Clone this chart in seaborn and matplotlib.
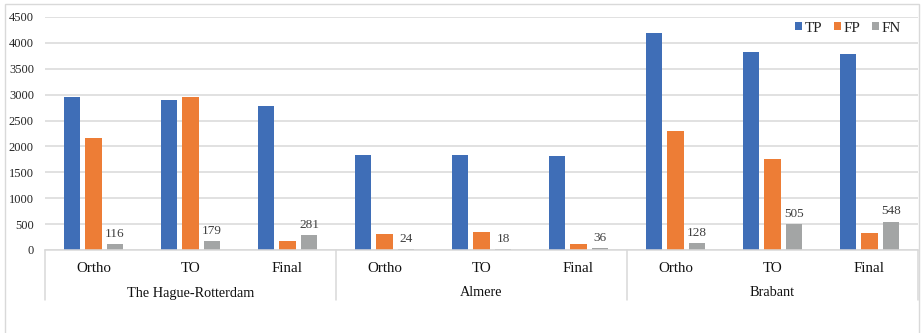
import matplotlib
matplotlib.use("Agg")
import matplotlib.pyplot as plt
import matplotlib.transforms as mtransforms
from matplotlib.patches import Rectangle, Patch
from matplotlib.lines import Line2D
import seaborn as sns
import pandas as pd

# Study areas and evaluation stages
regions = ["The Hague-Rotterdam", "Almere", "Brabant"]
stages = ["Ortho", "TO", "Final"]
metrics = ["TP", "FP", "FN"]

# Counts per region, in stage order (Ortho, TO, Final)
tp = [2950, 2890, 2790, 1830, 1830, 1825, 4200, 3820, 3780]
fp = [2170, 2960, 170, 310, 355, 110, 2290, 1750, 330]
fn = [116, 179, 281, 24, 18, 36, 128, 505, 548]

colors = ["#3F6EB7", "#ED7D36", "#A3A5A5"]
grid_color = "#D9D9D9"

keys = [f"{r}|{s}" for r in regions for s in stages]
rows = []
for m, vals in zip(metrics, [tp, fp, fn]):
    for k, v in zip(keys, vals):
        rows.append({"key": k, "metric": m, "value": v})
df = pd.DataFrame(rows)

sns.set_theme(style="white")
plt.rcParams["font.family"] = ["Liberation Serif", "DejaVu Serif"]

fig = plt.figure(figsize=(9.21, 3.33), dpi=100)
ax = fig.add_axes([45 / 921, 1 - 250 / 333, (918 - 45) / 921, (250 - 17) / 333])

sns.barplot(data=df, x="key", y="value", hue="metric", order=keys,
            hue_order=metrics, palette=colors, width=0.665, gap=0.22,
            saturation=1, linewidth=0, ax=ax, legend=False)

ax.set_xlim(-0.5, len(keys) - 0.5)
ax.set_ylim(0, 4500)
ax.set_yticks(range(0, 4501, 500))
ax.yaxis.grid(True, color=grid_color, linewidth=1.1)
ax.set_axisbelow(True)
for side in ["top", "right", "left"]:
    ax.spines[side].set_visible(False)
ax.spines["bottom"].set_color(grid_color)
ax.spines["bottom"].set_linewidth(1.1)
ax.set_xlabel("")
ax.set_ylabel("")
ax.tick_params(axis="y", length=0, pad=8, labelsize=9, colors="#262626")
ax.tick_params(axis="x", length=0, pad=9, labelsize=10.8, colors="#111111")
ax.set_xticks(range(len(keys)))
ax.set_xticklabels([k.split("|")[1] for k in keys])

# FN value labels
fn_bars = ax.containers[2]
ax.bar_label(fn_bars, labels=[str(v) for v in fn], padding=3,
             fontsize=9.5, color="#404040")

# Region labels and separators below the axis
trans = mtransforms.blended_transform_factory(ax.transData, fig.transFigure)
for i, r in enumerate(regions):
    fig.text(i * 3 + 1, 1 - 293 / 333, r, transform=trans, fontsize=10.3,
             ha="center", va="center", color="#111111")
for b in [-0.5, 2.5, 5.5, 8.5]:
    fig.add_artist(Line2D([b, b], [1 - 250 / 333, 1 - 300 / 333],
                          transform=trans, color=grid_color, linewidth=1.1))

# Legend with small square swatches
handles = [Patch(facecolor=c, edgecolor="none", linewidth=0) for c in colors]
fig.legend(handles, metrics, loc="center right",
           bbox_to_anchor=(907 / 921, 1 - 28 / 333), ncol=3, frameon=False,
           fontsize=10.8, handlelength=0.42, handleheight=0.42,
           handletextpad=0.2, columnspacing=0.8, borderaxespad=0,
           labelcolor="#222222")

# Chart border
fig.add_artist(Rectangle((5 / 921, -0.05), 914 / 921, 1.05 - 4 / 333,
                         transform=fig.transFigure, fill=False,
                         edgecolor=grid_color, linewidth=1.0))

fig.savefig("out.png", dpi=100)
